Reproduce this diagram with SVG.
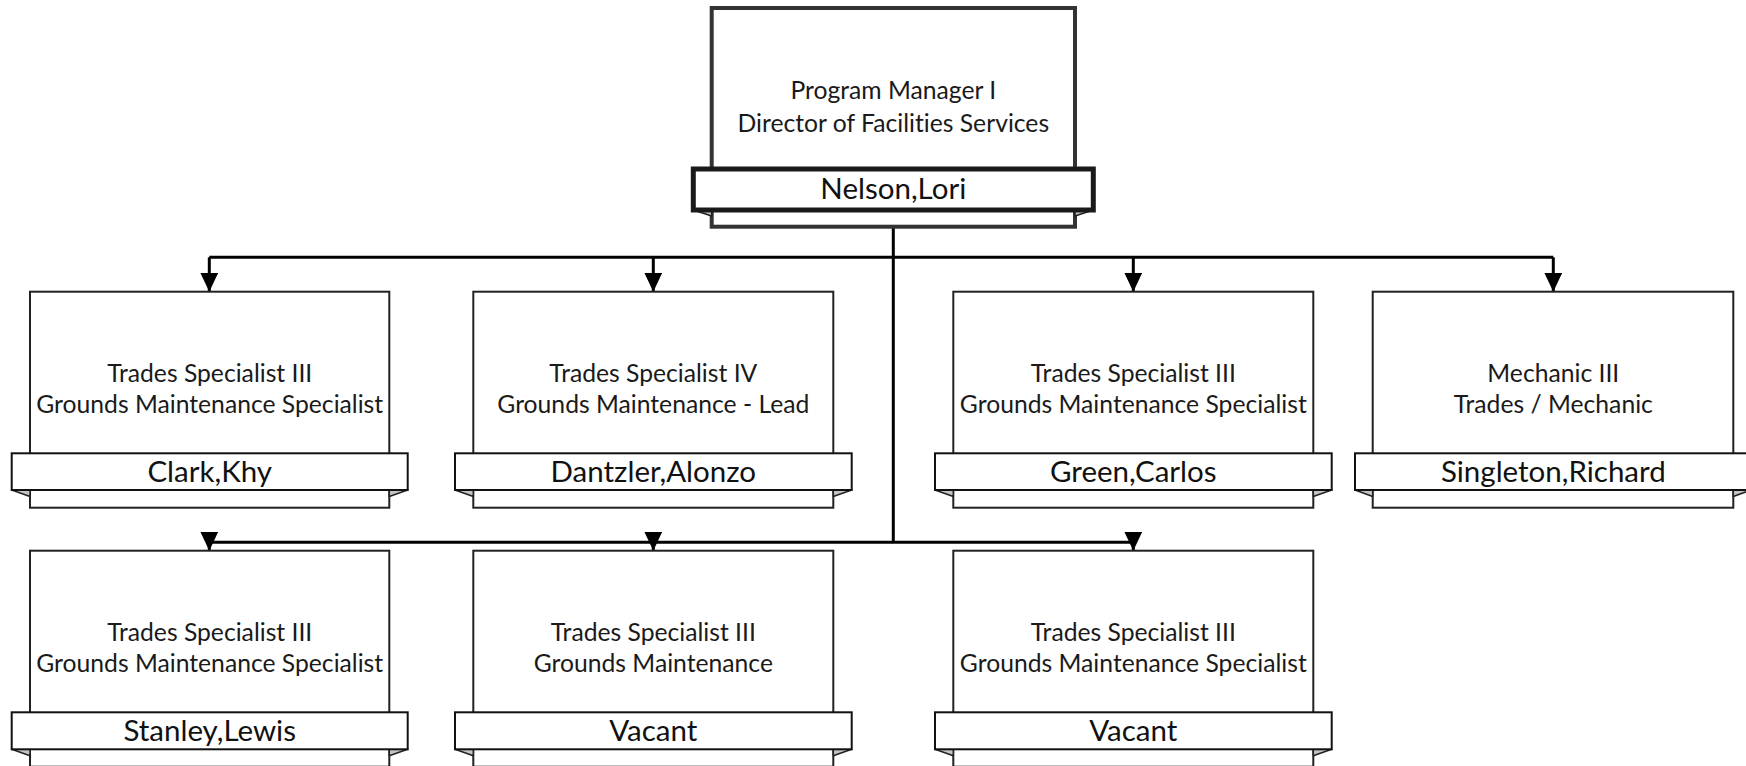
<svg xmlns="http://www.w3.org/2000/svg" width="1746" height="766" viewBox="0 0 1746 766">
<defs>
<style>
.box{fill:#fff;stroke:#222;stroke-width:2}
.band{fill:#fff;stroke:#111;stroke-width:2}
.fold{fill:#c4c4c4;stroke:#222;stroke-width:1.5;stroke-linejoin:round}
.topbox{fill:#fff;stroke:#333;stroke-width:4}
.topband{fill:#fff;stroke:#1a1a1a;stroke-width:5}
.title{font-family:Lato,"Open Sans",sans-serif;font-size:24.7px;fill:#1a1a1a;text-anchor:middle;font-variant-ligatures:none}
.name{font-family:Lato,"Open Sans",sans-serif;font-size:29.5px;fill:#111;text-anchor:middle;font-variant-ligatures:none}
.conn{fill:none;stroke:#000;stroke-width:3}
</style>
<marker id="arr" viewBox="0 0 19 18" refX="19" refY="9" markerWidth="19" markerHeight="18" markerUnits="userSpaceOnUse" orient="auto">
<path d="M0,0 L19,9 L0,18 Z" fill="#000"/>
</marker>
</defs>

<g id="connectors">
<path class="conn" d="M893.3,227 V542.3"/>
<path class="conn" d="M209.3,257.3 H1553.3"/>
<path class="conn" d="M209.3,257.3 V291.7" marker-end="url(#arr)"/>
<path class="conn" d="M653.3,257.3 V291.7" marker-end="url(#arr)"/>
<path class="conn" d="M1133.3,257.3 V291.7" marker-end="url(#arr)"/>
<path class="conn" d="M1553.3,257.3 V291.7" marker-end="url(#arr)"/>
<path class="conn" d="M209.3,542.3 H1133.3"/>
<path class="conn" d="M209.3,541 V550.7" marker-end="url(#arr)"/>
<path class="conn" d="M653.3,541 V550.7" marker-end="url(#arr)"/>
<path class="conn" d="M1133.3,541 V550.7" marker-end="url(#arr)"/>
</g>

<g id="node-nelson">
<rect class="topbox" x="711.7" y="8" width="363.3" height="218.7"/>
<path class="fold" d="M693.3,210 L711.7,210 L711.7,216 Z"/>
<path class="fold" d="M1093.3,210 L1075,210 L1075,216 Z"/>
<rect class="topband" x="693.3" y="169" width="400" height="41"/>
<text class="title" x="893.3" y="99.3">Program Manager I</text>
<text class="title" x="893.3" y="131.5">Director of Facilities Services</text>
<text class="name" x="893.3" y="199">Nelson,Lori</text>
</g>

<g id="node-clark">
<rect class="box" x="30" y="291.7" width="359.3" height="216"/>
<path class="fold" d="M11.7,490 L30,490 L30,496.5 Z"/>
<path class="fold" d="M407.7,490 L389.3,490 L389.3,496.5 Z"/>
<rect class="band" x="11.7" y="453.3" width="396" height="36.7"/>
<text class="title" x="209.7" y="381.7">Trades Specialist III</text>
<text class="title" x="209.7" y="413.3">Grounds Maintenance Specialist</text>
<text class="name" x="209.7" y="481.5">Clark,Khy</text>
</g>

<g id="node-dantzler">
<rect class="box" x="473.3" y="291.7" width="360" height="216"/>
<path class="fold" d="M455,490 L473.3,490 L473.3,496.5 Z"/>
<path class="fold" d="M851.7,490 L833.3,490 L833.3,496.5 Z"/>
<rect class="band" x="455" y="453.3" width="396.7" height="36.7"/>
<text class="title" x="653.3" y="381.7">Trades Specialist IV</text>
<text class="title" x="653.3" y="413.3">Grounds Maintenance - Lead</text>
<text class="name" x="653.3" y="481.5">Dantzler,Alonzo</text>
</g>

<g id="node-green">
<rect class="box" x="953.3" y="291.7" width="360" height="216"/>
<path class="fold" d="M935,490 L953.3,490 L953.3,496.5 Z"/>
<path class="fold" d="M1331.7,490 L1313.3,490 L1313.3,496.5 Z"/>
<rect class="band" x="935" y="453.3" width="396.7" height="36.7"/>
<text class="title" x="1133.3" y="381.7">Trades Specialist III</text>
<text class="title" x="1133.3" y="413.3">Grounds Maintenance Specialist</text>
<text class="name" x="1133.3" y="481.5">Green,Carlos</text>
</g>

<g id="node-singleton">
<rect class="box" x="1372.7" y="291.7" width="360.6" height="216"/>
<path class="fold" d="M1355,490 L1372.7,490 L1372.7,496.5 Z"/>
<path class="fold" d="M1751,490 L1733.3,490 L1733.3,496.5 Z"/>
<rect class="band" x="1355" y="453.3" width="396" height="36.7"/>
<text class="title" x="1553.3" y="381.7">Mechanic III</text>
<text class="title" x="1553.3" y="413.3">Trades / Mechanic</text>
<text class="name" x="1553.3" y="481.5">Singleton,Richard</text>
</g>

<g id="node-stanley">
<rect class="box" x="30" y="550.7" width="359.3" height="216"/>
<path class="fold" d="M11.7,749.3 L30,749.3 L30,755.8 Z"/>
<path class="fold" d="M407.7,749.3 L389.3,749.3 L389.3,755.8 Z"/>
<rect class="band" x="11.7" y="712.3" width="396" height="37"/>
<text class="title" x="209.7" y="640.7">Trades Specialist III</text>
<text class="title" x="209.7" y="672.3">Grounds Maintenance Specialist</text>
<text class="name" x="209.7" y="740.5">Stanley,Lewis</text>
</g>

<g id="node-vacant-1">
<rect class="box" x="473.3" y="550.7" width="360" height="216"/>
<path class="fold" d="M455,749.3 L473.3,749.3 L473.3,755.8 Z"/>
<path class="fold" d="M851.7,749.3 L833.3,749.3 L833.3,755.8 Z"/>
<rect class="band" x="455" y="712.3" width="396.7" height="37"/>
<text class="title" x="653.3" y="640.7">Trades Specialist III</text>
<text class="title" x="653.3" y="672.3">Grounds Maintenance</text>
<text class="name" x="653.3" y="740.5">Vacant</text>
</g>

<g id="node-vacant-2">
<rect class="box" x="953.3" y="550.7" width="360" height="216"/>
<path class="fold" d="M935,749.3 L953.3,749.3 L953.3,755.8 Z"/>
<path class="fold" d="M1331.7,749.3 L1313.3,749.3 L1313.3,755.8 Z"/>
<rect class="band" x="935" y="712.3" width="396.7" height="37"/>
<text class="title" x="1133.3" y="640.7">Trades Specialist III</text>
<text class="title" x="1133.3" y="672.3">Grounds Maintenance Specialist</text>
<text class="name" x="1133.3" y="740.5">Vacant</text>
</g>
</svg>
